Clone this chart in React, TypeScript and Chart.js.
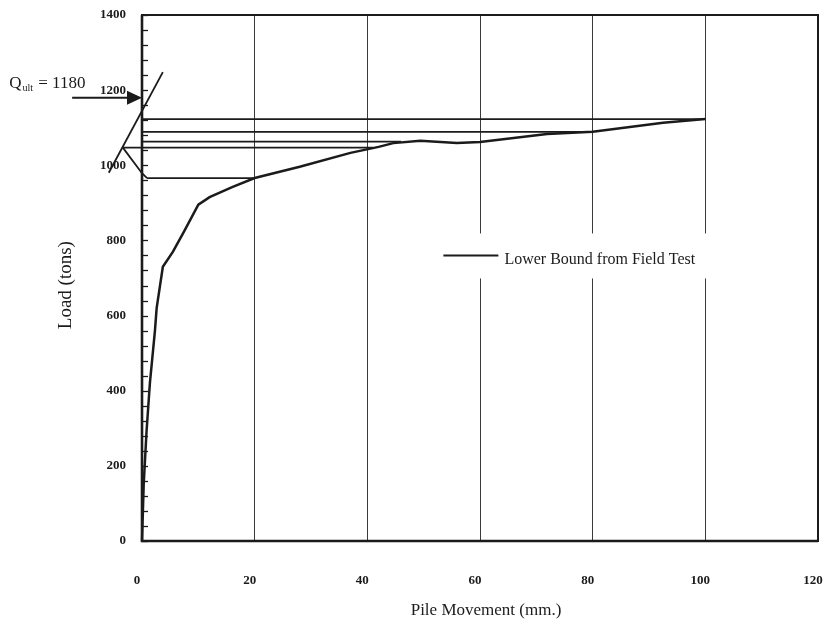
import React, { useEffect, useRef } from "react";
import { Chart, registerables } from "chart.js";

Chart.register(...registerables);

// ---- data ----
const movement = [0, 0.3, 0.8, 1.4, 2.3, 2.6, 3.7, 5.5, 7.5, 10, 12, 16, 20, 28, 37, 42, 44.6, 49.4, 55.9, 60, 71.9, 80, 92.5, 100];
const load = [0, 150, 290, 420, 560, 620, 730, 770, 825, 895, 915, 942, 966, 996, 1033, 1049, 1059, 1065, 1059, 1062, 1083, 1089, 1113, 1123];

// horizontal hold lines (load, start movement, end movement)
const holdLoads = [1123, 1089, 1063, 1047, 966];
const holdStart = [0, 0, 0, -3.4, 0.9];
const holdEnd = [100, 80, 46, 41, 20];

// kink joining the lowest two hold lines
const kinkX = [-3.4, 0, 0.9];
const kinkY = [1047, 979, 966];

// construction (tangent) line
const tangentX = [-5.9, 3.7];
const tangentY = [980, 1248];

const Q_ULT = 1180;
const arrowFromX = -12.4;

const xMin = 0, xMax = 120, xStep = 20;
const yMin = 0, yMax = 1400, yStep = 200, yMinorStep = 40;

const seriesLabel = "Lower Bound from Field Test";
const xTitle = "Pile Movement (mm.)";
const yTitle = "Load (tons)";

const SERIF = '"Liberation Serif", "Times New Roman", Times, serif';
const INK = "#1b1b1b";

const pts = (xs: number[], ys: number[]) => xs.map((x, i) => ({ x, y: ys[i] }));

const decorPlugin = {
  id: "decor",
  beforeDraw(chart: any) {
    const { ctx } = chart;
    ctx.save();
    ctx.fillStyle = "#ffffff";
    ctx.fillRect(0, 0, chart.width, chart.height);
    ctx.restore();
  },
  afterDatasetsDraw(chart: any) {
    const { ctx, chartArea: a, scales } = chart;
    const xs = scales.x, ys = scales.y;
    ctx.save();

    // frame
    ctx.strokeStyle = INK;
    ctx.lineWidth = 2;
    ctx.strokeRect(a.left, a.top, a.right - a.left, a.bottom - a.top);
    ctx.lineWidth = 2.6;
    ctx.beginPath();
    ctx.moveTo(a.left, a.top);
    ctx.lineTo(a.left, a.bottom);
    ctx.lineTo(a.right, a.bottom);
    ctx.stroke();

    // inner minor ticks on the load axis
    ctx.lineWidth = 1.3;
    for (let v = yMin; v <= yMax; v += yMinorStep) {
      const py = Math.round(ys.getPixelForValue(v)) + 0.5;
      ctx.beginPath();
      ctx.moveTo(a.left, py);
      ctx.lineTo(a.left + 6, py);
      ctx.stroke();
    }

    // legend box inside plot
    const ds = chart.data.datasets[0];
    const lx0 = xs.getPixelForValue(53.5);
    const ly = ys.getPixelForValue(760);
    ctx.fillStyle = "#ffffff";
    ctx.fillRect(lx0 - 6, ly - 22, 285, 45);
    ctx.strokeStyle = ds.borderColor;
    ctx.lineWidth = 2;
    ctx.beginPath();
    ctx.moveTo(lx0, ly);
    ctx.lineTo(lx0 + 55, ly);
    ctx.stroke();
    ctx.fillStyle = INK;
    ctx.font = `16px ${SERIF}`;
    ctx.textAlign = "left";
    ctx.textBaseline = "middle";
    ctx.fillText(ds.label, lx0 + 61, ly + 4);

    // Q_ult arrow
    const ay = ys.getPixelForValue(Q_ULT);
    const ax0 = xs.getPixelForValue(arrowFromX);
    const ax1 = xs.getPixelForValue(0);
    ctx.strokeStyle = INK;
    ctx.fillStyle = INK;
    ctx.lineWidth = 2;
    ctx.beginPath();
    ctx.moveTo(ax0, ay);
    ctx.lineTo(ax1 - 12, ay);
    ctx.stroke();
    ctx.beginPath();
    ctx.moveTo(ax1, ay);
    ctx.lineTo(ax1 - 15, ay - 7);
    ctx.lineTo(ax1 - 15, ay + 7);
    ctx.closePath();
    ctx.fill();

    // Q_ult label
    const tx = ax0 - 63;
    const tb = ay - 10;
    ctx.textBaseline = "alphabetic";
    ctx.font = `17px ${SERIF}`;
    ctx.fillText("Q", tx, tb);
    const qw = ctx.measureText("Q").width;
    ctx.font = `10px ${SERIF}`;
    ctx.fillText("ult", tx + qw + 1, tb + 3);
    const uw = ctx.measureText("ult").width;
    ctx.font = `17px ${SERIF}`;
    ctx.fillText(" = " + Q_ULT, tx + qw + uw + 2, tb);

    // axis titles
    ctx.font = `17px ${SERIF}`;
    ctx.textAlign = "center";
    ctx.textBaseline = "middle";
    ctx.fillText(xTitle, (a.left + a.right) / 2 + 6, 611);
    ctx.save();
    ctx.font = `19px ${SERIF}`;
    ctx.translate(66, ys.getPixelForValue(681));
    ctx.rotate(-Math.PI / 2);
    ctx.fillText(yTitle, 0, 0);
    ctx.restore();

    ctx.restore();
  },
};

export default function App() {
  const ref = useRef<HTMLCanvasElement | null>(null);

  useEffect(() => {
    if (!ref.current) return;
    const lineStyle = {
      showLine: true,
      pointRadius: 0,
      borderColor: INK,
      tension: 0,
      clip: false as const,
    };
    const datasets: any[] = [
      { ...lineStyle, label: seriesLabel, data: pts(movement, load), borderWidth: 2.5 },
    ];
    holdLoads.forEach((v, i) => {
      datasets.push({
        ...lineStyle,
        label: "hold " + v,
        data: [
          { x: holdStart[i], y: v },
          { x: holdEnd[i], y: v },
        ],
        borderWidth: 1.8,
      });
    });
    datasets.push({ ...lineStyle, label: "kink", data: pts(kinkX, kinkY), borderWidth: 1.8 });
    datasets.push({ ...lineStyle, label: "tangent", data: pts(tangentX, tangentY), borderWidth: 1.8 });

    const chart = new Chart(ref.current, {
      type: "scatter",
      data: { datasets },
      options: {
        animation: false,
        responsive: false,
        layout: { padding: { top: 15, right: 8, left: 0, bottom: 0 } },
        plugins: { legend: { display: false }, tooltip: { enabled: false } },
        scales: {
          x: {
            type: "linear",
            min: xMin,
            max: xMax,
            ticks: {
              stepSize: xStep,
              padding: 32,
              labelOffset: -5,
              color: INK,
              font: { family: SERIF, size: 13, weight: "bold" },
              callback: (v: any) => String(v),
            },
            grid: { color: "#3a3a3a", lineWidth: 1, drawTicks: false },
            border: { display: false },
            afterFit: (s: any) => {
              s.height = 92;
              s.paddingLeft = 0;
              s.paddingRight = 0;
            },
          },
          y: {
            type: "linear",
            min: yMin,
            max: yMax,
            ticks: {
              stepSize: yStep,
              padding: 16,
              color: INK,
              font: { family: SERIF, size: 13, weight: "bold" },
              callback: (v: any) => String(v),
            },
            grid: { display: false, drawTicks: false },
            border: { display: false },
            afterFit: (s: any) => {
              s.width = 142;
              s.paddingTop = 0;
              s.paddingBottom = 0;
            },
          },
        },
      },
      plugins: [decorPlugin],
    });
    return () => chart.destroy();
  }, []);

  return (
    <div style={{ position: "fixed", left: 0, top: 0, width: 826, height: 633, background: "#fff" }}>
      <canvas ref={ref} width={826} height={633} style={{ display: "block" }} />
    </div>
  );
}
